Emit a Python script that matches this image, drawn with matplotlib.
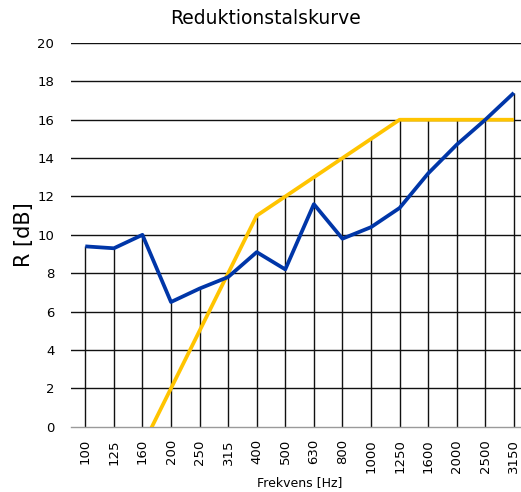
import numpy as np
import matplotlib
matplotlib.use('agg')
import matplotlib.pyplot as plt

# frequency bands (Hz) and reduction values (dB)
frequencies = ['100', '125', '160', '200', '250', '315', '400', '500',
               '630', '800', '1000', '1250', '1600', '2000', '2500', '3150']
measured = [9.4, 9.3, 10.0, 6.5, 7.2, 7.8, 9.1, 8.2,
            11.6, 9.8, 10.4, 11.4, 13.2, 14.7, 16.0, 17.4]
reference = [-7, -4, -1, 2, 5, 8, 11, 12,
             13, 14, 15, 16, 16, 16, 16, 16]
y_ticks = list(range(0, 21, 2))

BLUE = '#0036A8'
YELLOW = '#FFC400'

fig = plt.figure(figsize=(5.21, 4.92), dpi=100)
ax = fig.add_axes([71 / 521, 1 - 426.7 / 492, 1 - 71 / 521, (426.7 - 43) / 492])

x = np.arange(len(frequencies))

# horizontal grid
for y in y_ticks[1:]:
    ax.axhline(y, color='#111111', lw=1.0, zorder=1)

# drop lines up to the highest curve at each band
tops = np.maximum(measured, reference)
ax.vlines(x, 0, tops, color='#111111', lw=1.0, zorder=1)

ax.plot(x, reference, color=YELLOW, lw=2.7, zorder=3, solid_capstyle='butt')
ax.plot(x, measured, color=BLUE, lw=2.7, zorder=4, solid_capstyle='butt')

ax.set_xlim(-0.5, 15.25)
ax.set_ylim(0, 20)
ax.set_xticks(x)
ax.set_xticklabels(frequencies, rotation=90, fontsize=9.5)
ax.set_yticks(y_ticks)
ax.tick_params(axis='y', length=0, pad=12, labelsize=9.5)
ax.tick_params(axis='x', length=0, pad=9)

for side in ['top', 'right', 'left']:
    ax.spines[side].set_visible(False)
ax.spines['bottom'].set_color('#9a9a9a')
ax.spines['bottom'].set_linewidth(1.0)

ax.set_ylabel('R [dB]', fontsize=15)
ax.yaxis.set_label_coords(-0.083, 0.5)
fig.text(300 / 521, 1 - 483 / 492, 'Frekvens [Hz]', ha='center', va='center', fontsize=9)
fig.text(265 / 521, 1 - 19 / 492, 'Reduktionstalskurve', ha='center', va='center', fontsize=13.5)

fig.savefig('out.png', dpi=100)
